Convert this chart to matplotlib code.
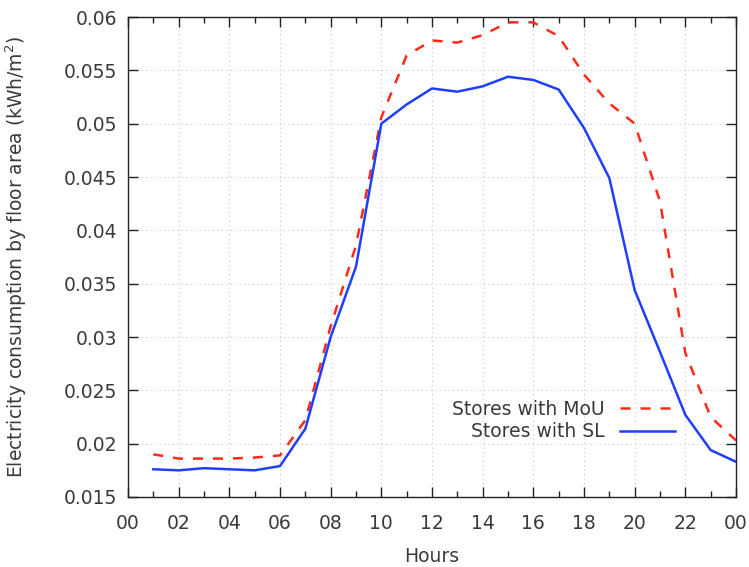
import matplotlib
matplotlib.use("Agg")
import matplotlib.pyplot as plt
import matplotlib.ticker as ticker

# hourly consumption per floor area, hours 01..24
hours = list(range(1, 25))
mou = [0.0190, 0.0186, 0.0186, 0.0186, 0.0187, 0.0189, 0.0222, 0.0310,
       0.0386, 0.0506, 0.0564, 0.0578, 0.0576, 0.0583, 0.0595, 0.0595,
       0.0582, 0.0546, 0.0519, 0.0500, 0.0427, 0.0285, 0.0225, 0.0203]
sl = [0.0176, 0.0175, 0.0177, 0.0176, 0.0175, 0.0179, 0.0214, 0.0300,
      0.0366, 0.0500, 0.0518, 0.0533, 0.0530, 0.0535, 0.0544, 0.0541,
      0.0532, 0.0496, 0.0449, 0.0344, 0.0286, 0.0227, 0.0194, 0.0183]

x_ticks = list(range(0, 25, 2))
x_labels = ["00", "02", "04", "06", "08", "10", "12", "14", "16", "18", "20", "22", "00"]
y_ticks = [0.015, 0.02, 0.025, 0.03, 0.035, 0.04, 0.045, 0.05, 0.055, 0.06]
y_labels = ["0.015", "0.02", "0.025", "0.03", "0.035", "0.04", "0.045", "0.05", "0.055", "0.06"]

txt = "#3a3a3a"
fs = 13.5
plt.rcParams["font.family"] = ["DejaVu Sans"]
plt.rcParams["font.size"] = fs

fig = plt.figure(figsize=(7.49, 5.67), dpi=100)
ax = fig.add_axes([128 / 749, 70 / 567, 608 / 749, 480 / 567])

ax.plot(hours, mou, color="#ff2a1a", lw=1.8, dashes=(4, 4), label="Stores with MoU")
ax.plot(hours, sl, color="#1f3fff", lw=1.8, label="Stores with SL")

ax.set_xlim(0, 24)
ax.set_ylim(0.015, 0.06)
ax.xaxis.set_major_locator(ticker.FixedLocator(x_ticks))
ax.xaxis.set_minor_locator(ticker.MultipleLocator(1))
ax.set_xticklabels(x_labels)
ax.yaxis.set_major_locator(ticker.FixedLocator(y_ticks))
ax.set_yticklabels(y_labels)

ax.tick_params(which="both", direction="in", top=True, right=True, colors="#222222",
               labelcolor=txt, labelsize=fs, width=1)
ax.tick_params(which="major", length=7)
ax.tick_params(axis="y", which="major", pad=8)
ax.tick_params(axis="x", which="major", pad=12)
ax.tick_params(which="minor", length=4)
ax.grid(True, which="major", color="#c8c8c8", linestyle=(0, (1, 3)), linewidth=0.8)
for s in ax.spines.values():
    s.set_linewidth(1)
    s.set_color("#222222")

ax.set_xlabel("Hours", color=txt, fontsize=fs, labelpad=10)
ax.set_ylabel("Electricity consumption by floor area (kWh/m$^2$)", color=txt, fontsize=fs)
ax.yaxis.set_label_coords(-0.163, 0.5)

ax.legend(loc="upper right", bbox_to_anchor=(0.90, 0.203), frameon=False, markerfirst=False,
          handlelength=2.95, handletextpad=0.8, borderaxespad=0, borderpad=0, labelspacing=0.21,
          fontsize=fs, labelcolor=txt)

fig.savefig("out.png", dpi=100)
